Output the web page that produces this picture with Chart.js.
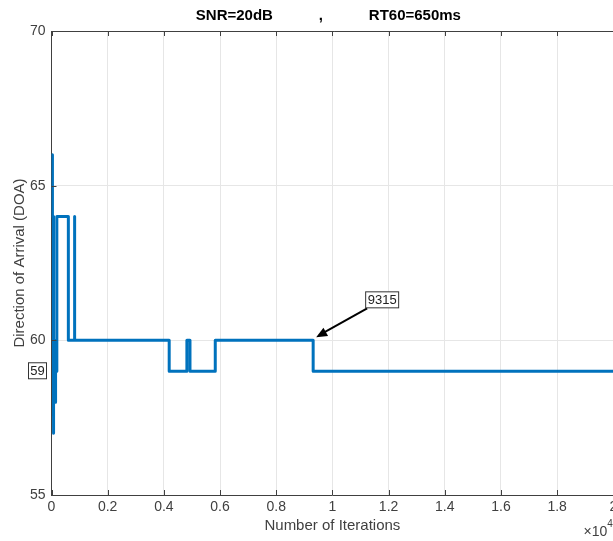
<!DOCTYPE html>
<html>
<head>
<meta charset="utf-8">
<script src="https://cdn.jsdelivr.net/npm/chart.js@4.4.1/dist/chart.umd.min.js"></script>
<style>
  html, body { margin: 0; padding: 0; background: #fff; overflow: hidden; }
  #wrap { width: 613px; height: 541px; overflow: hidden; }
</style>
</head>
<body>
<div id="wrap">
  <canvas id="doaChart" width="655" height="541"></canvas>
</div>
<script>
// change points of the DOA estimate (value holds until next iteration listed)
const iterations = [0, 20, 40, 60, 80, 110, 125, 140, 160, 190, 600, 810, 830, 4190, 4820, 4930, 5830, 9315, 20000];
const doa = [64, 66, 64, 57, 60, 58, 60, 58, 59, 64, 60, 64, 60, 59, 60, 59, 60, 59, 59];

const xTicks = [0, 2000, 4000, 6000, 8000, 10000, 12000, 14000, 16000, 18000, 20000];
const yTicks = [55, 60, 65, 70];

const titleText = "SNR=20dB           ,           RT60=650ms";
const markIteration = 9315;
const markValue = 60;
const axisLabelValue = 59;

const FONT = "'Liberation Sans', Arial, sans-serif";

// build stair vertices from the change points
const stairs = [];
for (let i = 0; i < iterations.length; i++) {
  if (i > 0) stairs.push({ x: iterations[i], y: doa[i - 1] });
  stairs.push({ x: iterations[i], y: doa[i] });
}

const matlabAxes = {
  id: "matlabAxes",
  afterDraw(chart) {
    const ctx = chart.ctx;
    const { left, right, top, bottom } = chart.chartArea;
    const xs = chart.scales.x, ys = chart.scales.y;
    ctx.save();
    ctx.strokeStyle = "#404040";
    ctx.lineWidth = 1;
    // box top + left + bottom
    ctx.beginPath();
    ctx.moveTo(left, top + 0.5);
    ctx.lineTo(right + 5, top + 0.5);
    ctx.stroke();
    // inward tick marks
    ctx.beginPath();
    xTicks.forEach(v => {
      const px = Math.round(xs.getPixelForValue(v)) + 0.5;
      ctx.moveTo(px, bottom);
      ctx.lineTo(px, bottom - 5);
      ctx.moveTo(px, top);
      ctx.lineTo(px, top + 5);
    });
    yTicks.forEach(v => {
      const py = Math.round(ys.getPixelForValue(v)) + 0.5;
      ctx.moveTo(left, py);
      ctx.lineTo(left + 5, py);
    });
    ctx.stroke();

    // title
    ctx.fillStyle = "#000";
    ctx.font = "bold 15px " + FONT;
    ctx.textAlign = "center";
    ctx.textBaseline = "middle";
    ctx.fillText(titleText, (left + right) / 2 - 4, 16);

    // exponent label
    ctx.fillStyle = "#404040";
    ctx.font = "14px " + FONT;
    ctx.textAlign = "right";
    ctx.textBaseline = "alphabetic";
    ctx.fillText("\u00d710", right - 6, 536);
    ctx.font = "10px " + FONT;
    ctx.textAlign = "left";
    ctx.fillText("4", right - 6, 527);

    // datatip: value box on y axis
    const y59 = ys.getPixelForValue(axisLabelValue);
    ctx.font = "13px " + FONT;
    ctx.textAlign = "center";
    ctx.textBaseline = "middle";
    ctx.fillStyle = "#fff";
    ctx.fillRect(28.5, y59 - 8.5, 18, 16);
    ctx.strokeStyle = "#333";
    ctx.strokeRect(28.5, y59 - 8.5, 18, 16);
    ctx.fillStyle = "#222";
    ctx.fillText(String(axisLabelValue), 37.5, y59 + 0.5);

    // arrow + label at the change point
    const mx = xs.getPixelForValue(markIteration);
    const my = ys.getPixelForValue(markValue);
    const tipX = mx + 3, tipY = my - 3;
    const tailX = mx + 54, tailY = my - 32;
    ctx.strokeStyle = "#000";
    ctx.fillStyle = "#000";
    ctx.lineWidth = 2;
    ctx.beginPath();
    ctx.moveTo(tailX, tailY);
    ctx.lineTo(tipX + 8, tipY - 5);
    ctx.stroke();
    const ang = Math.atan2(tipY - tailY, tipX - tailX);
    ctx.beginPath();
    ctx.moveTo(tipX, tipY);
    ctx.lineTo(tipX - 12 * Math.cos(ang - 0.4), tipY - 12 * Math.sin(ang - 0.4));
    ctx.lineTo(tipX - 12 * Math.cos(ang + 0.4), tipY - 12 * Math.sin(ang + 0.4));
    ctx.closePath();
    ctx.fill();
    ctx.lineWidth = 1;
    ctx.fillStyle = "#fff";
    ctx.fillRect(mx + 52.5, my - 48.5, 33, 16);
    ctx.strokeStyle = "#333";
    ctx.strokeRect(mx + 52.5, my - 48.5, 33, 16);
    ctx.fillStyle = "#222";
    ctx.font = "13px " + FONT;
    ctx.fillText(String(markIteration), mx + 69, my - 40);
    ctx.restore();
  }
};

const ctx = document.getElementById("doaChart").getContext("2d");
const myChart = new Chart(ctx, {
  type: "line",
  data: {
    datasets: [
      {
        data: stairs,
        borderColor: "#0072BD",
        borderWidth: 3,
        pointRadius: 0,
        fill: false,
        tension: 0,
        borderJoinStyle: "round",
      },
    ],
  },
  options: {
    responsive: false,
    animation: false,
    events: [],
    layout: { padding: { left: 0, right: 41.7, top: 31, bottom: 0 } },
    plugins: {
      legend: { display: false },
      tooltip: { enabled: false },
      title: { display: false },
    },
    scales: {
      x: {
        type: "linear",
        min: 0,
        max: 20000,
        afterFit: (scale) => { scale.height = 46; },
        afterBuildTicks: (scale) => { scale.ticks = xTicks.map(v => ({ value: v })); },
        ticks: {
          color: "#404040",
          font: { family: FONT, size: 14 },
          padding: 4,
          maxRotation: 0,
          autoSkip: false,
          callback: (v) => String(+(v / 10000).toFixed(1)),
        },
        grid: { color: "#e6e6e6", drawTicks: false },
        border: { color: "#404040" },
        title: {
          display: true,
          text: "Number of Iterations",
          color: "#404040",
          font: { family: FONT, size: 15 },
          padding: { top: 0, bottom: 6 },
        },
      },
      y: {
        min: 55,
        max: 70,
        afterFit: (scale) => { scale.width = 51.5; },
        afterBuildTicks: (scale) => { scale.ticks = yTicks.map(v => ({ value: v })); },
        ticks: {
          color: "#404040",
          font: { family: FONT, size: 14 },
          padding: 6,
        },
        grid: { color: "#e6e6e6", drawTicks: false },
        border: { color: "#404040" },
        title: {
          display: true,
          text: "Direction of Arrival (DOA)",
          color: "#404040",
          font: { family: FONT, size: 15 },
          padding: { top: 11, bottom: 0 },
        },
      },
    },
  },
  plugins: [matlabAxes],
});
</script>
</body>
</html>
